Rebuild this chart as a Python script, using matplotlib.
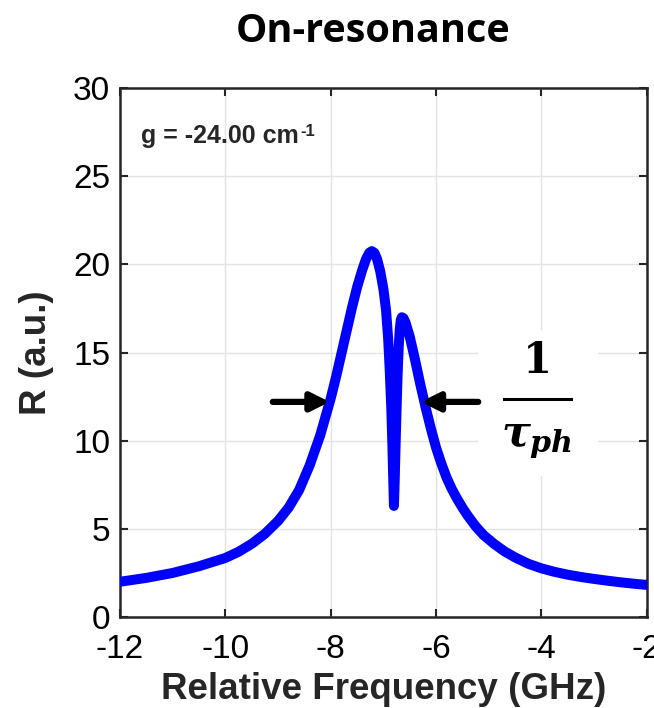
import matplotlib
matplotlib.use("Agg")
import matplotlib.pyplot as plt
from matplotlib.patches import Rectangle

# reflectance spectrum
freq = [-12.0, -11.5, -11.0, -10.5, -10.0, -9.75, -9.5, -9.25, -9.0, -8.8,
        -8.6, -8.4, -8.2, -8.0, -7.9, -7.8, -7.7, -7.6, -7.5, -7.4,
        -7.33, -7.27, -7.22, -7.17, -7.12, -7.06, -7.0, -6.95, -6.91, -6.88,
        -6.85, -6.83, -6.815, -6.80, -6.785, -6.77, -6.75, -6.73, -6.71, -6.69,
        -6.67, -6.65, -6.62, -6.58, -6.5, -6.4, -6.3, -6.2, -6.1, -6.0,
        -5.9, -5.8, -5.7, -5.6, -5.5, -5.4, -5.25, -5.1, -4.9, -4.7,
        -4.5, -4.25, -4.0, -3.75, -3.5, -3.25, -3.0, -2.75, -2.5, -2.25, -2.0]
refl = [2.00, 2.22, 2.50, 2.88, 3.35, 3.70, 4.15, 4.72, 5.45, 6.20,
        7.20, 8.60, 10.30, 12.40, 13.60, 14.90, 16.20, 17.50, 18.70, 19.70,
        20.30, 20.65, 20.75, 20.65, 20.30, 19.60, 18.60, 17.40, 15.80, 14.00,
        11.80, 9.80, 8.00, 6.30, 7.80, 9.60, 11.80, 13.80, 15.30, 16.30,
        16.85, 17.00, 16.95, 16.70, 15.90, 14.60, 13.20, 11.90, 10.70, 9.60,
        8.70, 7.90, 7.25, 6.70, 6.20, 5.75, 5.15, 4.65, 4.15, 3.72,
        3.38, 3.02, 2.76, 2.56, 2.40, 2.27, 2.16, 2.06, 1.97, 1.89, 1.82]

xticks = [-12, -10, -8, -6, -4, -2]
yticks = [0, 5, 10, 15, 20, 25, 30]
arrow_y = 12.2
left_arrow = (-9.1, -8.02)
right_arrow = (-5.2, -6.29)

plt.rcParams['axes.unicode_minus'] = False
plt.rcParams['mathtext.fontset'] = 'custom'
plt.rcParams['mathtext.it'] = 'DejaVu Serif:bold:italic'
plt.rcParams['mathtext.rm'] = 'DejaVu Serif:bold'

fig = plt.figure(figsize=(6.54, 7.08), dpi=100)
ax = fig.add_axes([0.1835, 0.1285, 0.8055, 0.7472])

ax.plot(freq, refl, color='#0000ff', lw=7.2, solid_capstyle='round',
        solid_joinstyle='round', zorder=3)

ax.set_xlim(-12, -2)
ax.set_ylim(0, 30)
ax.set_xticks(xticks)
ax.set_yticks(yticks)
ax.grid(True, color='#e3e3e3', lw=1.0)
ax.set_axisbelow(True)
ax.tick_params(direction='in', length=6, width=1.5, top=True, right=True,
               labelsize=24, colors='#262626')
ax.tick_params(axis='x', pad=12)
ax.tick_params(axis='y', pad=7)
for lab in ax.get_xticklabels() + ax.get_yticklabels():
    lab.set_fontfamily('Liberation Sans')
    lab.set_color('black')
for s in ax.spines.values():
    s.set_linewidth(1.8)
    s.set_color('#262626')

ax.set_xlabel('Relative Frequency (GHz)', fontsize=26.5, fontweight='bold',
              family='Liberation Sans', color='#262626', labelpad=5)
ax.set_ylabel('R (a.u.)', fontsize=26.5, fontweight='bold',
              family='Liberation Sans', color='#262626', labelpad=14)

g_txt = ax.text(0.04, 0.91, 'g = -24.00 cm', transform=ax.transAxes,
                fontsize=18, fontweight='bold', family='Liberation Sans',
                color='#262626', va='center', ha='left')
ax.annotate('-1', xy=(1.0, 1.0), xycoords=g_txt, xytext=(1, 0),
            textcoords='offset points', fontsize=12, fontweight='bold',
            family='Liberation Sans', color='#262626', va='top', ha='left')

# white patch behind the 1/tau label
ax.add_patch(Rectangle((0.679, 0.266), 0.228, 0.277, transform=ax.transAxes,
                       facecolor='white', edgecolor='none', zorder=1))

for tail, tip in [left_arrow, right_arrow]:
    ax.annotate('', xy=(tip, arrow_y), xytext=(tail, arrow_y),
                arrowprops=dict(arrowstyle='-|>,head_length=1.1,head_width=0.55',
                                color='black', lw=4.5, shrinkA=0, shrinkB=0),
                zorder=4)

ax.text(0.793, 0.484, '1', transform=ax.transAxes, fontsize=30,
        fontweight='bold', family='DejaVu Serif', ha='center', va='center')
ax.plot([0.729, 0.857], [0.413, 0.413], transform=ax.transAxes,
        color='black', lw=2.2, zorder=4)
ax.text(0.79, 0.335, r'$\tau_{ph}$', transform=ax.transAxes, fontsize=31,
        ha='center', va='center')

fig.text(0.571, 0.955, 'On-resonance', fontsize=28.5, fontweight='bold',
         family='Open Sans', ha='center', va='center')

plt.savefig('out.png', dpi=100)
